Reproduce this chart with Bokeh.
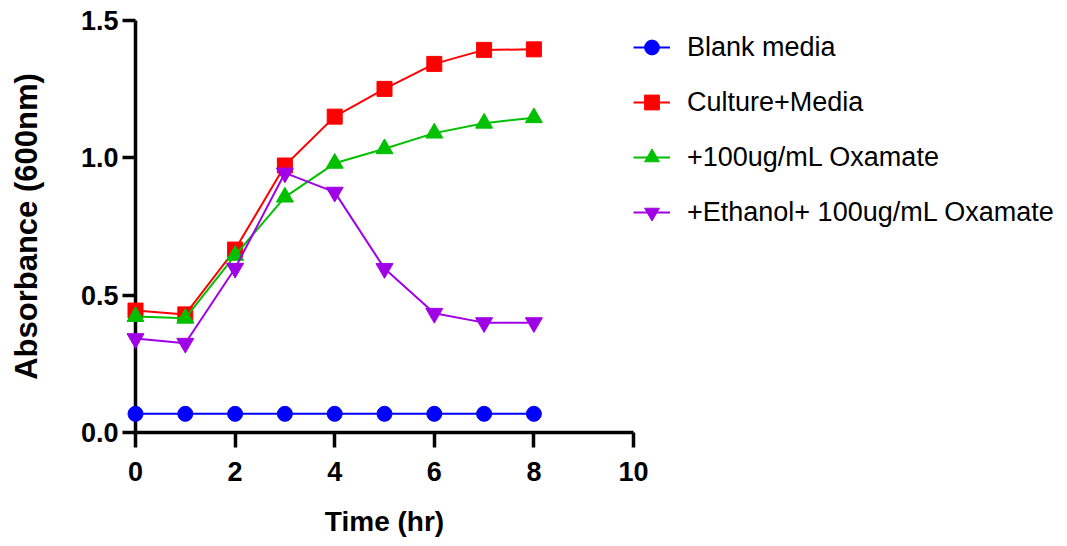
from bokeh.plotting import figure
from bokeh.models import Range1d, FixedTicker, Legend, LegendItem, NumeralTickFormatter
from bokeh.embed import file_html
from bokeh.resources import INLINE

# ---- data ----
time_hr = [0, 1, 2, 3, 4, 5, 6, 7, 8]
blank_media = [0.068, 0.068, 0.068, 0.068, 0.068, 0.068, 0.068, 0.068, 0.068]
culture_media = [0.444, 0.430, 0.666, 0.972, 1.150, 1.251, 1.342, 1.393, 1.395]
oxamate_100 = [0.422, 0.416, 0.645, 0.857, 0.980, 1.033, 1.090, 1.126, 1.146]
ethanol_oxamate = [0.342, 0.325, 0.598, 0.945, 0.875, 0.597, 0.434, 0.400, 0.400]

series_names = ["Blank media", "Culture+Media", "+100ug/mL Oxamate", "+Ethanol+ 100ug/mL Oxamate"]
x_ticks = [0, 2, 4, 6, 8, 10]
y_ticks = [0.0, 0.5, 1.0, 1.5]

colors = ["#0000FF", "#FF0000", "#00C000", "#A000E6"]
markers = ["circle", "square", "triangle", "inverted_triangle"]
sizes = [15, 15, 17, 17]
values = [blank_media, culture_media, oxamate_100, ethanol_oxamate]

FONT = "Liberation Sans"

p = figure(frame_width=498, frame_height=412,
           x_range=Range1d(0, 10), y_range=Range1d(0, 1.5),
           output_backend="svg", toolbar_location=None,
           min_border_left=135, min_border_top=20, min_border_bottom=112,
           min_border_right=425)
p.grid.visible = False
p.outline_line_color = None
p.background_fill_color = "white"
p.border_fill_color = "white"

items = []
for name, ys, c, m, s in zip(series_names, values, colors, markers, sizes):
    r_line = p.line(time_hr, ys, line_color=c, line_width=2, level="overlay")
    r_pt = p.scatter(time_hr, ys, marker=m, size=s, fill_color=c, line_color=c,
                     line_width=1, level="overlay")
    items.append(LegendItem(label=name, renderers=[r_line, r_pt]))

for ax in (p.xaxis[0], p.yaxis[0]):
    ax.axis_line_width = 3.5
    ax.axis_line_color = "black"
    ax.major_tick_line_width = 3.5
    ax.major_tick_line_color = "black"
    ax.major_tick_in = 0
    ax.minor_tick_line_color = None
    ax.major_label_text_font = FONT
    ax.major_label_text_font_style = "bold"
    ax.major_label_text_font_size = "27px"
    ax.major_label_text_color = "black"
    ax.axis_label_text_font = FONT
    ax.axis_label_text_font_style = "bold"
    ax.axis_label_text_color = "black"

p.xaxis.ticker = FixedTicker(ticks=x_ticks)
p.yaxis.ticker = FixedTicker(ticks=y_ticks)
p.yaxis.formatter = NumeralTickFormatter(format="0.0")
p.xaxis.major_tick_out = 15
p.yaxis.major_tick_out = 13
p.xaxis.major_label_standoff = 14
p.yaxis.major_label_standoff = 4
p.xaxis.axis_label = "Time (hr)"
p.yaxis.axis_label = "Absorbance (600nm)"
p.xaxis.axis_label_text_font_size = "28px"
p.yaxis.axis_label_text_font_size = "31px"
p.xaxis.axis_label_standoff = 22
p.yaxis.axis_label_standoff = 34

legend = Legend(items=items, location="top_left", orientation="vertical",
                margin=0, padding=0, spacing=1,
                glyph_width=37, glyph_height=54, label_height=54,
                label_standoff=17,
                label_text_font=FONT, label_text_font_size="27px",
                label_text_color="black",
                border_line_color=None, background_fill_alpha=0)
p.add_layout(legend, "right")

open("out.html", "w").write(file_html(p, INLINE))
